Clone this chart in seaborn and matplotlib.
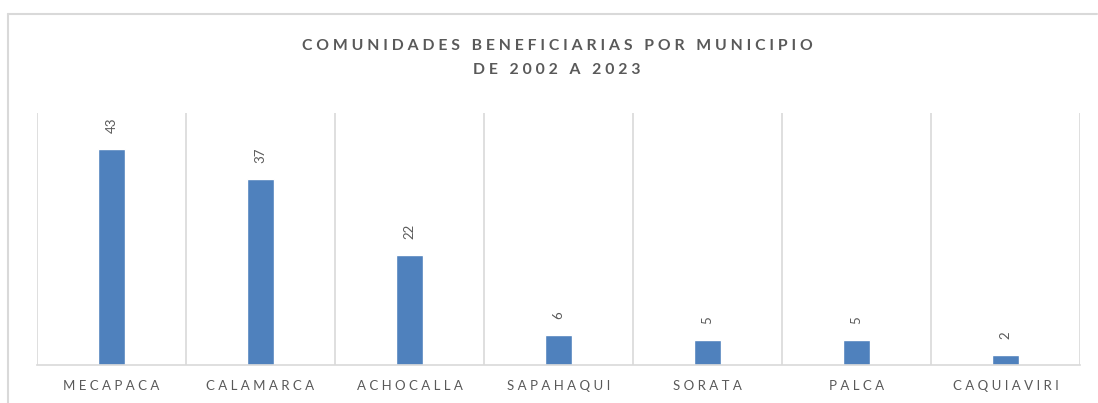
import matplotlib
matplotlib.use("Agg")
import matplotlib.pyplot as plt
import seaborn as sns
import pandas as pd
from matplotlib.lines import Line2D

municipios = ["MECAPACA", "CALAMARCA", "ACHOCALLA", "SAPAHAQUI", "SORATA", "PALCA", "CAQUIAVIRI"]
comunidades = [43, 37, 22, 6, 5, 5, 2]
titulo = ["COMUNIDADES BENEFICIARIAS POR MUNICIPIO", "DE 2002 A 2023"]

sns.set_theme(style="white")
plt.rcParams['font.family'] = ['Lato', 'DejaVu Sans']

GRAY = "#595959"
GRID = "#d9d9d9"
BLUE = "#4F81BD"

def spaced(s, sep=" "):
    words = s.split(" ")
    return (sep * 3).join(sep.join(w) for w in words)

df = pd.DataFrame({"municipio": municipios, "comunidades": comunidades})

fig = plt.figure(figsize=(10.98, 4.03), dpi=100)
ax = fig.add_axes([37/1098, 38/403, (1080-37)/1098, (365-113)/403])

sns.barplot(data=df, x="municipio", y="comunidades", color=BLUE, width=0.185,
            saturation=1, ax=ax)

ax.set_ylim(0, 50.2)
ax.set_xlim(-0.5, len(municipios) - 0.5)
ax.set_xlabel("")
ax.set_ylabel("")
ax.set_yticks([])
for s in ["top", "left", "right"]:
    ax.spines[s].set_visible(False)
ax.spines["bottom"].set_color(GRID)
ax.spines["bottom"].set_linewidth(1.2)

for i in range(len(municipios) + 1):
    ax.axvline(i - 0.5, color=GRID, lw=1.2, zorder=0)

ax.set_xticks(range(len(municipios)))
ax.set_xticklabels([spaced(m) for m in municipios], color=GRAY, fontsize=9.5)
ax.tick_params(axis="x", length=0, pad=11)

for i, v in enumerate(comunidades):
    ax.annotate(str(v), (i, v), xytext=(0, 11.5), textcoords="offset points",
                rotation=90, ha="center", va="bottom", color=GRAY, fontsize=9.5)

fig.text(557/1098, 1 - 46/403, spaced(titulo[0]), ha="center", va="center",
         color=GRAY, fontsize=11.3, fontweight="bold")
fig.text(557/1098, 1 - 70/403, spaced(titulo[1]), ha="center", va="center",
         color=GRAY, fontsize=11.3, fontweight="bold")

# outer chart border (partially visible)
fig.add_artist(Line2D([8/1098, 1097/1098], [1 - 14/403, 1 - 14/403],
                      transform=fig.transFigure, color=GRID, lw=1.5))
fig.add_artist(Line2D([8/1098, 8/1098], [0, 1 - 14/403],
                      transform=fig.transFigure, color=GRID, lw=1.5))

fig.savefig("out.png", dpi=100)
